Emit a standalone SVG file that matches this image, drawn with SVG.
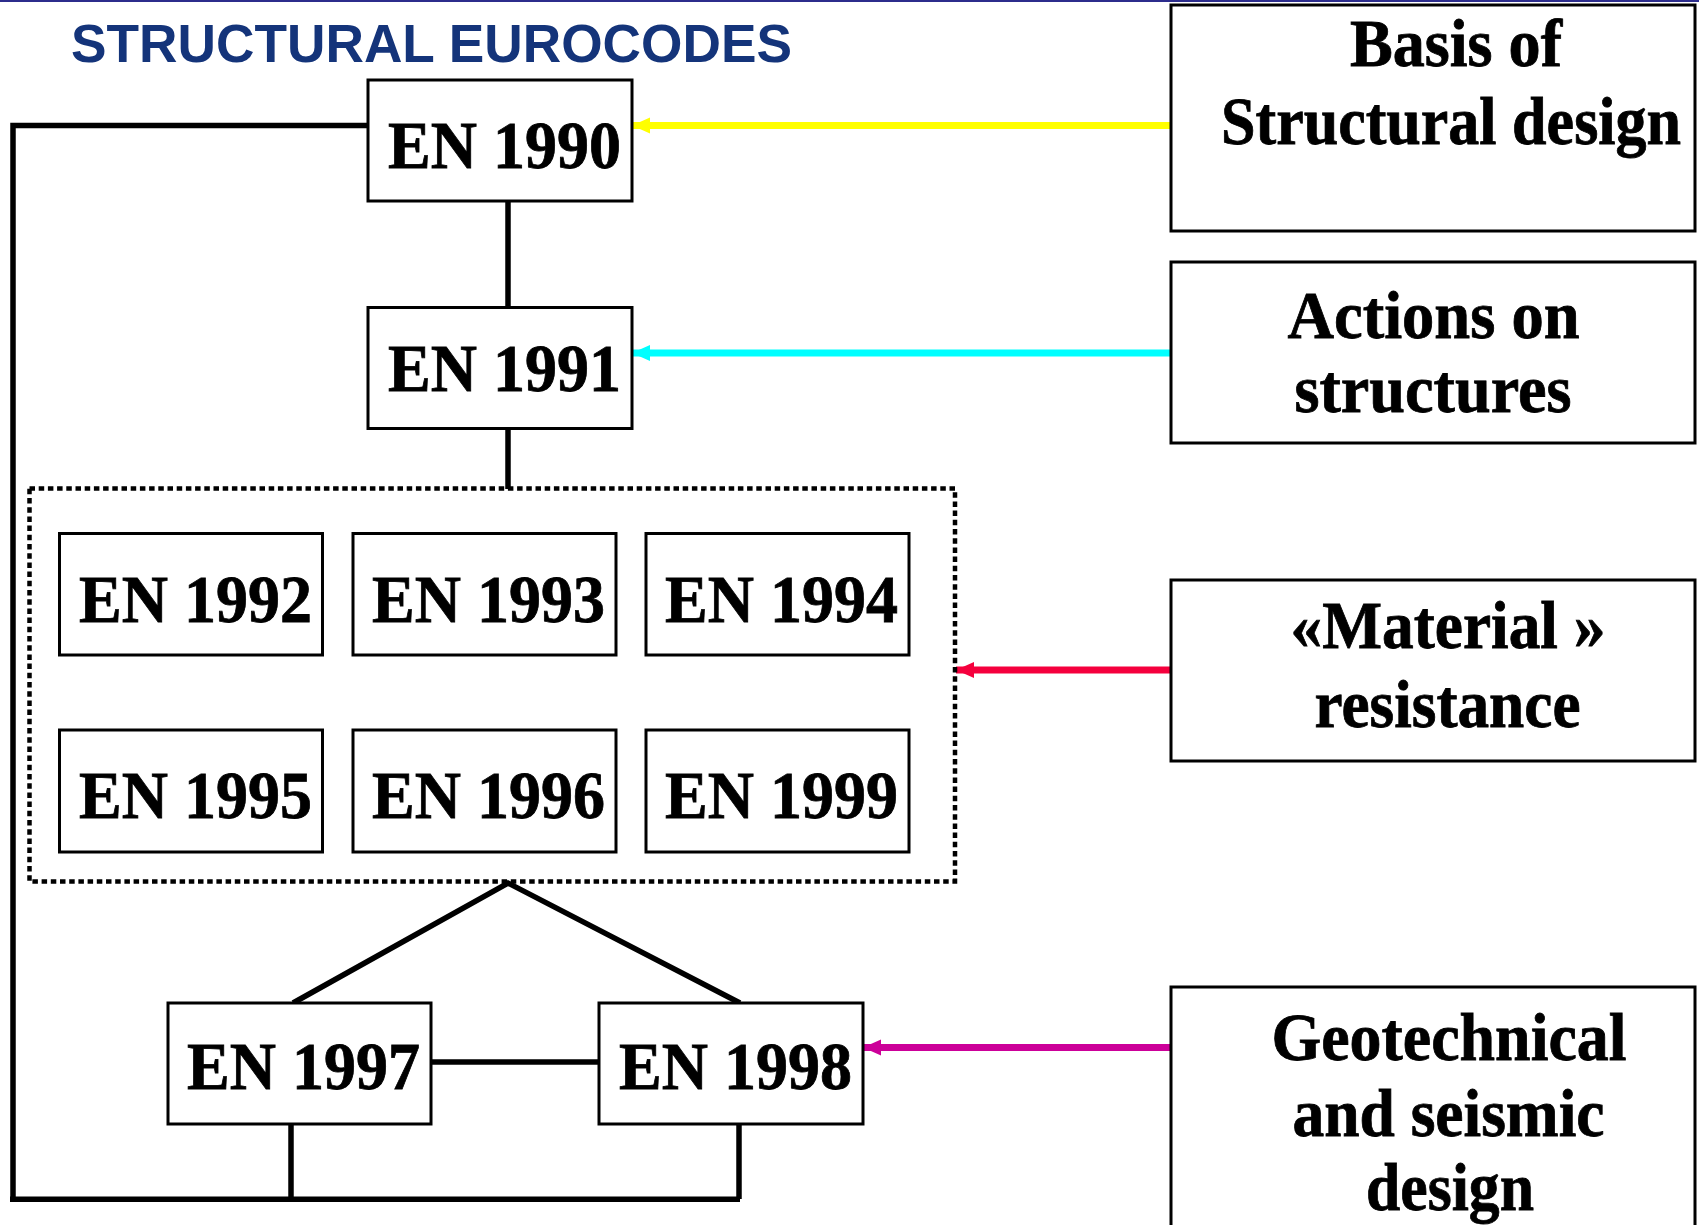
<svg xmlns="http://www.w3.org/2000/svg" width="1699" height="1225" viewBox="0 0 1699 1225">
<style>
.box{fill:#fff;stroke:#000;stroke-width:3}
.en{font-family:"Liberation Serif","Times New Roman",serif;font-weight:bold;font-size:68px;fill:#000;stroke:#000;stroke-width:0.8}
.lbl{font-family:"Liberation Serif","Times New Roman",serif;font-weight:bold;font-size:68px;fill:#000;stroke:#000;stroke-width:0.8;text-anchor:middle}
.ln{fill:none;stroke:#000;stroke-width:5.5}
.dot{fill:none;stroke:#000;stroke-width:4.5;stroke-dasharray:5.5 3.7}
</style>
<defs>
<marker id="ahY" markerUnits="userSpaceOnUse" markerWidth="20" markerHeight="18" refX="18" refY="9" orient="auto"><path d="M0,1 L18,9 L0,17 Z" fill="#ffff00"/></marker>
<marker id="ahC" markerUnits="userSpaceOnUse" markerWidth="20" markerHeight="18" refX="18" refY="9" orient="auto"><path d="M0,1 L18,9 L0,17 Z" fill="#00ffff"/></marker>
<marker id="ahR" markerUnits="userSpaceOnUse" markerWidth="20" markerHeight="18" refX="18" refY="9" orient="auto"><path d="M0,1 L18,9 L0,17 Z" fill="#f5003d"/></marker>
<marker id="ahM" markerUnits="userSpaceOnUse" markerWidth="20" markerHeight="18" refX="18" refY="9" orient="auto"><path d="M0,1 L18,9 L0,17 Z" fill="#cc0099"/></marker>
</defs>
<rect x="0" y="0" width="1699" height="1225" fill="#fff"/>
<rect x="0" y="0" width="1699" height="2" fill="#2c2c8c"/>
<text id="title" x="71" y="62" font-family="'Liberation Sans',Arial,sans-serif" font-weight="bold" font-size="53.5" fill="#14347a" textLength="721" lengthAdjust="spacingAndGlyphs">STRUCTURAL EUROCODES</text>

<g id="connectors">
<path class="ln" stroke-width="6" d="M368,125.5 H13 V1199"/>
<path class="ln" stroke-width="7" d="M10,1199.3 H740"/>
<path class="ln" d="M508,201 V308"/>
<path class="ln" d="M508,428 V489"/>
<path class="ln" d="M293,1003 L508,883 L740,1003"/>
<path class="ln" stroke-width="6" d="M431,1062 H599"/>
<path class="ln" d="M291,1124 V1199"/>
<path class="ln" d="M739,1124 V1199"/>
<line x1="1171" y1="125.5" x2="632" y2="125.5" stroke="#ffff00" stroke-width="7" marker-end="url(#ahY)"/>
<line x1="1171" y1="353" x2="632" y2="353" stroke="#00ffff" stroke-width="7" marker-end="url(#ahC)"/>
<line x1="1171" y1="670" x2="956" y2="670" stroke="#f5003d" stroke-width="7" marker-end="url(#ahR)"/>
<line x1="1171" y1="1047.5" x2="863" y2="1047.5" stroke="#cc0099" stroke-width="7" marker-end="url(#ahM)"/>
</g>

<g id="group-1992-1999">
<rect class="dot" x="29.5" y="488.5" width="925.5" height="393"/>
</g>

<g id="en1990"><rect class="box" x="368" y="80" width="264" height="121"/><text class="en" x="388" y="168" textLength="233" lengthAdjust="spacingAndGlyphs">EN 1990</text></g>
<g id="en1991"><rect class="box" x="368" y="307.5" width="264" height="121"/><text class="en" x="388" y="391" textLength="233" lengthAdjust="spacingAndGlyphs">EN 1991</text></g>
<g id="en1992"><rect class="box" x="59.5" y="533.5" width="263" height="121.5"/><text class="en" x="79" y="621.5" textLength="233" lengthAdjust="spacingAndGlyphs">EN 1992</text></g>
<g id="en1993"><rect class="box" x="353" y="533.5" width="263" height="121.5"/><text class="en" x="372" y="621.5" textLength="233" lengthAdjust="spacingAndGlyphs">EN 1993</text></g>
<g id="en1994"><rect class="box" x="646" y="533.5" width="263" height="121.5"/><text class="en" x="665" y="621.5" textLength="233" lengthAdjust="spacingAndGlyphs">EN 1994</text></g>
<g id="en1995"><rect class="box" x="59.5" y="730" width="263" height="122"/><text class="en" x="79" y="818" textLength="233" lengthAdjust="spacingAndGlyphs">EN 1995</text></g>
<g id="en1996"><rect class="box" x="353" y="730" width="263" height="122"/><text class="en" x="372" y="818" textLength="233" lengthAdjust="spacingAndGlyphs">EN 1996</text></g>
<g id="en1999"><rect class="box" x="646" y="730" width="263" height="122"/><text class="en" x="665" y="818" textLength="233" lengthAdjust="spacingAndGlyphs">EN 1999</text></g>
<g id="en1997"><rect class="box" x="168" y="1003" width="263" height="121"/><text class="en" x="187" y="1089" textLength="233" lengthAdjust="spacingAndGlyphs">EN 1997</text></g>
<g id="en1998"><rect class="box" x="599" y="1003" width="264" height="121"/><text class="en" x="619" y="1089" textLength="233" lengthAdjust="spacingAndGlyphs">EN 1998</text></g>

<g id="basis"><rect class="box" x="1171" y="5" width="524" height="226"/>
<text class="lbl" x="1456" y="66" textLength="212" lengthAdjust="spacingAndGlyphs">Basis of</text>
<text class="lbl" x="1451" y="143.5" textLength="460" lengthAdjust="spacingAndGlyphs">Structural design</text></g>
<g id="actions"><rect class="box" x="1171" y="262" width="524" height="181"/>
<text class="lbl" x="1433.5" y="337.5" textLength="292" lengthAdjust="spacingAndGlyphs">Actions on</text>
<text class="lbl" x="1433" y="412" textLength="277" lengthAdjust="spacingAndGlyphs">structures</text></g>
<g id="material"><rect class="box" x="1171" y="580" width="524" height="181"/>
<text class="lbl" x="1448" y="648" textLength="315" lengthAdjust="spacingAndGlyphs">«Material »</text>
<text class="lbl" x="1447.5" y="727" textLength="266" lengthAdjust="spacingAndGlyphs">resistance</text></g>
<g id="geotechnical"><rect class="box" x="1171" y="987" width="524" height="260"/>
<text class="lbl" x="1449" y="1060" textLength="355" lengthAdjust="spacingAndGlyphs">Geotechnical</text>
<text class="lbl" x="1448.5" y="1136" textLength="312" lengthAdjust="spacingAndGlyphs">and seismic</text>
<text class="lbl" x="1450" y="1210" textLength="168" lengthAdjust="spacingAndGlyphs">design</text></g>
</svg>
